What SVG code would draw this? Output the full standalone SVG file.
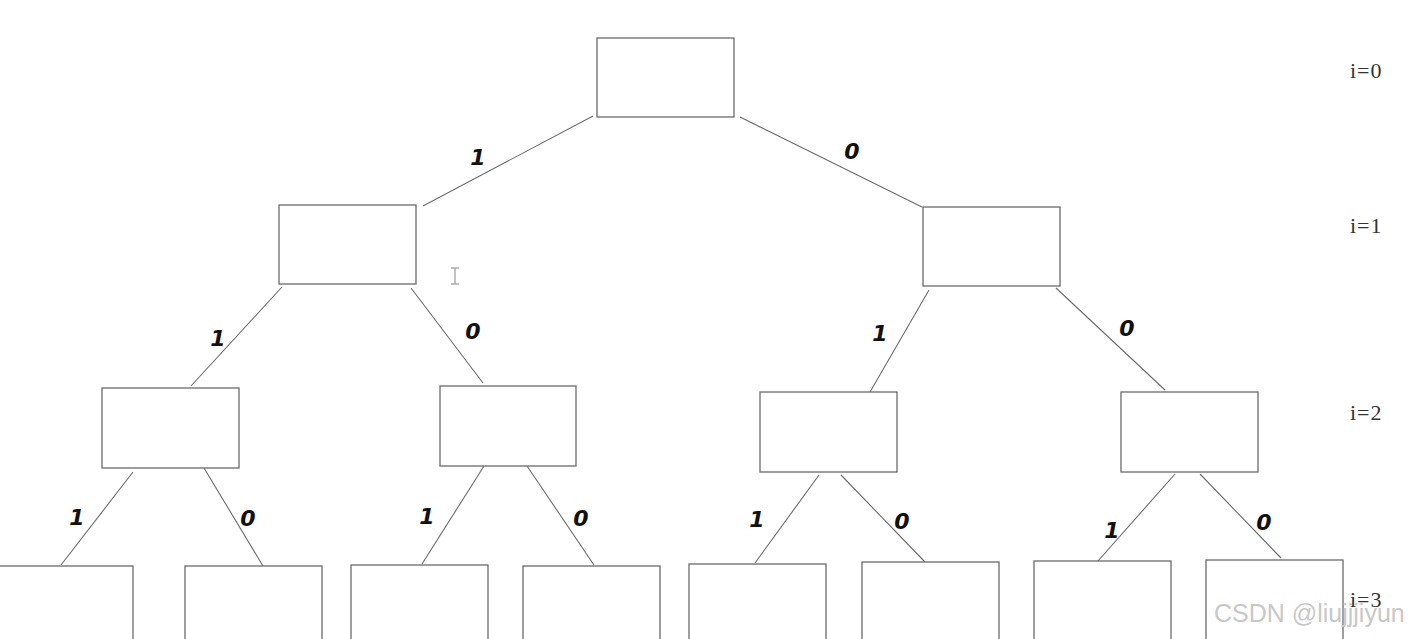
<svg xmlns="http://www.w3.org/2000/svg" width="1413" height="639" viewBox="0 0 1413 639">
<style>
.box{fill:#fff;stroke:#6a6a6a;stroke-width:1.3}
.edge{stroke:#6a6a6a;stroke-width:1.1;fill:none}
.lbl{font-family:"DejaVu Sans","Liberation Sans",sans-serif;font-weight:bold;font-style:italic;font-size:22px;fill:#111;text-anchor:middle}
.lvl{font-family:"Liberation Serif",serif;font-size:22px;fill:#333;letter-spacing:1px}
.wm{font-family:"Liberation Sans",Arial,sans-serif;font-size:25px;fill:#c8c8c8}
</style>
<rect width="1413" height="639" fill="#fff"/>
<g id="connectors">
<line class="edge" x1="593" y1="116" x2="423" y2="206"/>
<line class="edge" x1="740" y1="117" x2="922" y2="207"/>
<line class="edge" x1="282" y1="287" x2="191" y2="386"/>
<line class="edge" x1="411" y1="288" x2="483" y2="383"/>
<line class="edge" x1="929" y1="290" x2="870" y2="392"/>
<line class="edge" x1="1056" y1="288" x2="1165" y2="390"/>
<line class="edge" x1="133" y1="472" x2="61" y2="565"/>
<line class="edge" x1="204" y1="468" x2="263" y2="566"/>
<line class="edge" x1="484" y1="466" x2="422" y2="564"/>
<line class="edge" x1="527" y1="466" x2="594" y2="565"/>
<line class="edge" x1="819" y1="475" x2="755" y2="563"/>
<line class="edge" x1="841" y1="475" x2="925" y2="562"/>
<line class="edge" x1="1175" y1="474" x2="1098" y2="561"/>
<line class="edge" x1="1200" y1="474" x2="1281" y2="558"/>
</g>
<g id="labels">
<text class="lbl" x="478" y="165">1</text>
<text class="lbl" x="852" y="159">0</text>
<text class="lbl" x="218" y="346">1</text>
<text class="lbl" x="473" y="339">0</text>
<text class="lbl" x="880" y="341">1</text>
<text class="lbl" x="1127" y="336">0</text>
<text class="lbl" x="77" y="525">1</text>
<text class="lbl" x="248" y="526">0</text>
<text class="lbl" x="427" y="524">1</text>
<text class="lbl" x="581" y="526">0</text>
<text class="lbl" x="757" y="527">1</text>
<text class="lbl" x="902" y="529">0</text>
<text class="lbl" x="1112" y="538">1</text>
<text class="lbl" x="1264" y="530">0</text>
</g>
<g id="n-root"><rect class="box" x="597" y="38" width="137" height="79"/></g>
<g id="n-1L"><rect class="box" x="279" y="205" width="137" height="79"/></g>
<g id="n-1R"><rect class="box" x="923" y="207" width="137" height="79"/></g>
<g id="n-2A"><rect class="box" x="102" y="388" width="137" height="80"/></g>
<g id="n-2B"><rect class="box" x="440" y="386" width="136" height="80"/></g>
<g id="n-2C"><rect class="box" x="760" y="392" width="137" height="80"/></g>
<g id="n-2D"><rect class="box" x="1121" y="392" width="137" height="80"/></g>
<g id="n-3a"><rect class="box" x="-4" y="566" width="137" height="90"/></g>
<g id="n-3b"><rect class="box" x="185" y="566" width="137" height="90"/></g>
<g id="n-3c"><rect class="box" x="351" y="565" width="137" height="90"/></g>
<g id="n-3d"><rect class="box" x="523" y="566" width="137" height="90"/></g>
<g id="n-3e"><rect class="box" x="689" y="564" width="137" height="90"/></g>
<g id="n-3f"><rect class="box" x="862" y="562" width="137" height="90"/></g>
<g id="n-3g"><rect class="box" x="1034" y="561" width="137" height="90"/></g>
<g id="n-3h"><rect class="box" x="1206" y="560" width="137" height="90"/></g>
<g id="levels">
<text class="lvl" x="1350" y="78">i=0</text>
<text class="lvl" x="1350" y="233">i=1</text>
<text class="lvl" x="1350" y="420">i=2</text>
<text class="lvl" x="1350" y="607">i=3</text>
</g>
<g id="cursor" stroke="#999" stroke-width="1.2">
<line x1="455" y1="268" x2="455" y2="284"/>
<line x1="451" y1="268" x2="459" y2="268"/>
<line x1="451" y1="284" x2="459" y2="284"/>
</g>
<text class="wm" x="1214" y="622">CSDN @liujjjiyun</text>
</svg>
